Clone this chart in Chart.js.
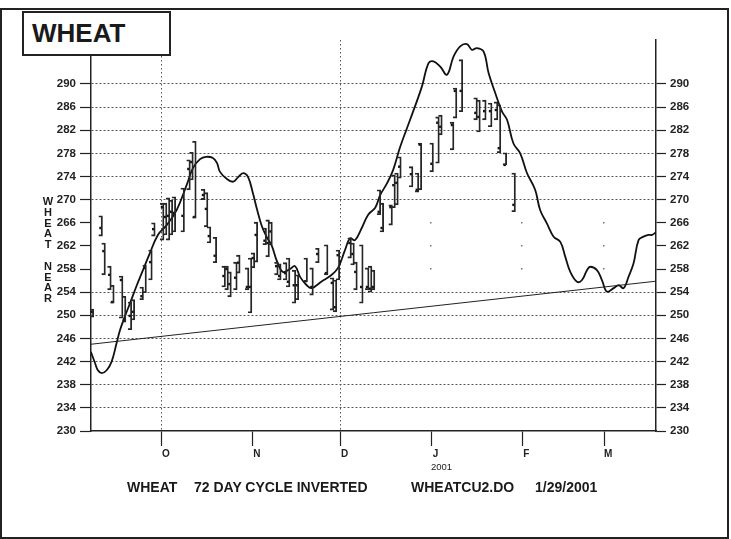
<!DOCTYPE html>
<html>
<head>
<meta charset="utf-8">
<script src="https://cdn.jsdelivr.net/npm/chart.js@4.4.1/dist/chart.umd.min.js"></script>
<style>
  body { margin: 0; background: #fff; }
  #wrap { position: relative; width: 731px; height: 539px; font-family: 'Liberation Sans', Arial, sans-serif; color: #1a1a1a; overflow: hidden; }
  #wrap div { box-sizing: border-box; position: absolute; }
  #c { position: absolute; left: 0; top: 0; }
  .frame { left: 0; top: 8px; width: 729px; height: 531px; border: 2px solid #222; }
  .titlebox { left: 22px; top: 11px; width: 149px; height: 45px; border: 2px solid #222; background: #fff;
              font-weight: bold; font-size: 26px; line-height: 40px; padding-left: 8px; }
  .vlabel { left: 41px; top: 196px; width: 14px; text-align: center; font-weight: bold; font-size: 11px; line-height: 10.8px; }
  .year { left: 431px; top: 461px; font-size: 9.5px; }
  .cap { top: 479px; font-weight: bold; font-size: 14px; line-height: 16px; white-space: nowrap; }
</style>
</head>
<body>
<div id="wrap">
  <canvas id="c" width="731" height="539"></canvas>
  <div class="frame"></div>
  <div class="titlebox">WHEAT</div>
  <div class="vlabel">W<br>H<br>E<br>A<br>T<br>&nbsp;<br>N<br>E<br>A<br>R</div>
  <div class="year">2001</div>
  <div class="cap" style="left:127px">WHEAT</div>
  <div class="cap" style="left:194px">72 DAY CYCLE INVERTED</div>
  <div class="cap" style="left:411px">WHEATCU2.DO</div>
  <div class="cap" style="left:535px">1/29/2001</div>
</div>
<script>
// x values are days counted from Sept 1, 2000
const monthTicks = [30, 61, 91, 122, 153, 181]
const monthLabels = ['O', 'N', 'D', 'J', 'F', 'M']
const priceTicks = [230, 234, 238, 242, 246, 250, 254, 258, 262, 266, 270, 274, 278, 282, 286, 290]

// daily high / low / close bars
const barDays  = [6, 9, 10, 12, 13, 16, 17, 19, 20, 23, 24, 26, 27, 30, 31, 32, 33, 34, 37, 39, 40, 41, 44, 45, 46, 48,
                  51, 52, 53, 55, 56, 59, 60, 61, 62, 65, 66, 67, 69, 70, 72, 73, 75, 76, 79, 81, 83, 86, 88, 89, 90,
                  94, 95, 96, 98, 100, 101, 102, 104, 105, 108, 109, 110, 111, 115, 117, 118, 122, 124, 125, 129, 130,
                  132, 137, 138, 140, 142, 144, 145, 147, 150]
const barLow   = [249.7, 263.7, 257.0, 254.4, 252.1, 249.5, 248.8, 247.5, 249.2, 252.7, 253.9, 256.1, 263.7, 263.0, 263.9,
                  263.0, 263.9, 264.4, 264.4, 271.7, 273.4, 266.8, 270.0, 265.3, 262.5, 259.1,
                  254.9, 254.4, 253.2, 254.4, 257.3, 254.4, 250.4, 258.2, 259.2, 262.2, 260.1, 262.2, 257.0, 256.1, 256.1,
                  254.9, 252.1, 252.7, 255.8, 253.5, 259.1, 257.0, 250.9, 250.6, 256.1,
                  259.9, 258.7, 254.4, 252.1, 254.4, 254.0, 254.4, 267.4, 264.4, 265.6, 268.6, 269.1, 273.7, 272.2, 271.3,
                  271.7, 274.8, 276.3, 281.2, 278.6, 284.1, 285.2, 283.8, 281.7, 283.8, 282.6, 283.8, 278.1, 276.0, 267.9]
const barHigh  = [251.1, 267.2, 262.5, 258.5, 255.2, 256.8, 253.3, 252.3, 252.7, 254.9, 258.7, 261.3, 266.0, 269.4, 269.4,
                  270.3, 269.9, 270.5, 272.0, 276.9, 278.2, 280.1, 271.8, 271.2, 265.3, 263.5,
                  258.5, 258.5, 257.5, 259.2, 260.4, 258.2, 259.9, 260.8, 266.1, 265.1, 266.5, 266.1, 259.2, 258.9, 259.1,
                  259.9, 257.8, 257.0, 259.9, 258.2, 261.6, 262.2, 256.5, 256.1, 261.3,
                  263.4, 262.5, 259.2, 262.2, 258.2, 258.5, 257.8, 271.7, 269.4, 269.1, 274.3, 274.6, 277.4, 275.7, 274.6,
                  279.8, 279.8, 284.3, 284.6, 283.4, 289.3, 294.2, 287.6, 287.2, 287.2, 286.7, 286.9, 286.4, 278.1, 274.6]
const barClose = [250.6, 265.1, 261.1, 257.0, 252.3, 256.1, 249.2, 249.9, 250.6, 253.3, 258.2, 259.2, 264.9, 268.7, 267.0,
                  267.2, 267.9, 267.7, 267.2, 275.3, 276.5, 267.0, 270.8, 268.4, 263.7, 260.3,
                  256.8, 258.0, 255.4, 256.5, 259.1, 254.9, 254.9, 259.9, 263.9, 262.9, 262.5, 264.5, 258.5, 256.8, 257.3,
                  255.8, 255.2, 255.2, 255.9, 254.9, 260.6, 257.3, 255.6, 251.4, 260.4,
                  262.5, 260.6, 257.5, 254.9, 254.9, 254.6, 254.9, 267.9, 265.1, 268.7, 272.5, 272.9, 275.7, 274.4, 271.7,
                  279.5, 276.2, 283.3, 282.6, 282.9, 288.8, 288.8, 285.0, 284.3, 285.3, 285.3, 285.5, 278.9, 276.0, 269.1]

// 72 day cycle (inverted)
const cycleDays = [5.7, 7.1, 8.1, 9.4, 11.1, 12.8, 14.5, 15.7, 17.4, 19.1, 21.4, 23.5, 25.9, 28.6, 31.6, 35.0, 38.4, 40.6,
                   43.0, 45.0, 47.4, 48.8, 49.8, 52.1, 54.3, 56.0, 57.7, 59.4, 61.1, 62.5, 64.1, 65.8, 67.5, 69.2, 71.3,
                   73.7, 75.4, 77.2, 79.4, 81.1, 84.6, 87.4, 90.1, 92.5, 94.2, 95.9, 98.2, 100.4, 102.8, 104.5, 106.8,
                   108.9, 111.3, 114.7, 118.7, 121.0, 122.7, 125.0, 127.3, 129.5, 131.8, 134.1, 135.8, 137.5, 139.8,
                   141.5, 143.8, 146.1, 147.8, 150.0, 152.3, 154.6, 157.4, 159.1, 161.4, 163.7, 166.0, 167.7, 169.4,
                   171.7, 173.4, 175.1, 176.2, 178.5, 180.2, 181.9, 184.2, 185.9, 187.6, 189.3, 191.0, 192.7, 194.4,
                   196.1, 197.3, 199.0]
const cycleValues = [243.7, 241.8, 240.5, 240.0, 240.5, 242.0, 245.2, 247.5, 249.9, 252.1, 255.2, 257.8, 260.8, 263.9,
                     265.6, 268.2, 272.5, 275.5, 277.0, 277.4, 277.2, 276.3, 274.8, 273.6, 273.1, 273.9, 274.6, 273.9,
                     271.0, 268.2, 265.4, 263.5, 262.0, 259.4, 257.5, 258.0, 258.5, 256.6, 255.2, 254.7, 255.9, 256.8,
                     258.2, 261.3, 263.3, 263.0, 265.1, 267.4, 268.6, 270.8, 272.8, 275.1, 279.1, 283.8, 289.5, 293.6,
                     293.9, 293.0, 291.6, 294.7, 296.5, 296.9, 295.9, 296.2, 295.6, 291.9, 288.4, 285.2, 283.8, 279.7,
                     278.0, 274.6, 271.7, 268.2, 265.9, 263.6, 262.7, 260.1, 257.5, 255.8, 256.1, 257.8, 258.4, 257.8,
                     256.1, 254.1, 254.7, 255.2, 254.7, 256.7, 259.0, 263.0, 263.6, 263.9, 263.9, 264.5]

// trend line
const trendDays = [5.76, 198.66]
const trendValues = [245.0, 255.9]

// grid lines that are only hinted by dots
const dottedMonths = [30, 91]
const faintMonths = [122, 153, 181]
const faintLevels = [258, 262, 266]

const faintDots = {
  id: 'faintDots',
  beforeDatasetsDraw(chart) {
    const { ctx, scales: { x, y } } = chart
    ctx.save()
    ctx.fillStyle = '#777'
    faintMonths.forEach(d => faintLevels.forEach(v => {
      ctx.fillRect(Math.round(x.getPixelForValue(d)) - 1, Math.round(y.getPixelForValue(v)) - 1, 1.5, 1.5)
    }))
    ctx.restore()
  }
}

const tickFont = { family: "'Liberation Sans', Arial, sans-serif", size: 11.5, weight: 'bold' }

function priceAxis(position, tickLen, onArea) {
  return {
    type: 'linear',
    position: position,
    min: 230,
    max: 297.6,
    afterBuildTicks: s => { s.ticks = priceTicks.map(v => ({ value: v })) },
    afterFit: s => { s.width = position === 'left' ? 91 : 75 },
    ticks: { font: tickFont, color: '#222', padding: 4 },
    grid: {
      drawOnChartArea: onArea,
      color: c => (c.tick && (faintLevels.includes(c.tick.value) || c.tick.value === 230)) ? 'rgba(0,0,0,0)' : '#555',
      tickColor: '#222',
      tickLength: tickLen,
      tickWidth: 1.2,
      lineWidth: 1
    },
    border: { color: '#222', width: 1.5, dash: [2, 2] }
  }
}

new Chart(document.getElementById('c'), {
  type: 'bar',
  data: {
    datasets: [
      {
        type: 'line',
        data: trendDays.map((d, i) => ({ x: d, y: trendValues[i] })),
        borderColor: '#222',
        borderWidth: 1,
        pointRadius: 0
      },
      {
        type: 'bar',
        data: barDays.map((d, i) => ({ x: d, y: [barLow[i], barHigh[i]] })),
        backgroundColor: 'rgba(0,0,0,0)',
        borderColor: '#262626',
        borderWidth: 1.2,
        borderSkipped: 'left',
        barThickness: 4
      },
      {
        type: 'scatter',
        data: barDays.map((d, i) => ({ x: d, y: barClose[i] })),
        pointStyle: 'rect',
        pointRadius: 1.7,
        backgroundColor: '#111',
        borderWidth: 0
      },
      {
        type: 'line',
        data: cycleDays.map((d, i) => ({ x: d, y: cycleValues[i] })),
        borderColor: '#111',
        borderWidth: 1.8,
        pointRadius: 0,
        tension: 0.4
      }
    ]
  },
  options: {
    responsive: false,
    animation: false,
    layout: { padding: { top: 40, left: 0, right: 0, bottom: 0 } },
    plugins: { legend: { display: false }, tooltip: { enabled: false } },
    scales: {
      x: {
        type: 'linear',
        position: 'bottom',
        offset: false,
        min: 5.76,
        max: 198.66,
        afterBuildTicks: s => { s.ticks = monthTicks.map(v => ({ value: v })) },
        afterFit: s => { s.height = 108 },
        ticks: {
          callback: v => monthLabels[monthTicks.indexOf(v)],
          font: { family: "'Liberation Sans', Arial, sans-serif", size: 10, weight: 'bold' },
          color: '#222',
          padding: 2,
          labelOffset: 4,
          autoSkip: false,
          maxRotation: 0
        },
        grid: {
          offset: false,
          color: c => (c.tick && dottedMonths.includes(c.tick.value)) ? '#555' : 'rgba(0,0,0,0)',
          tickColor: '#222',
          tickLength: 15,
          tickWidth: 1.2,
          lineWidth: 1
        },
        border: { color: '#222', width: 1.5, dash: [1.5, 2.5] }
      },
      y: priceAxis('left', 11, true),
      y2: priceAxis('right', 10, false)
    }
  },
  plugins: [faintDots]
})
</script>
</body>
</html>
